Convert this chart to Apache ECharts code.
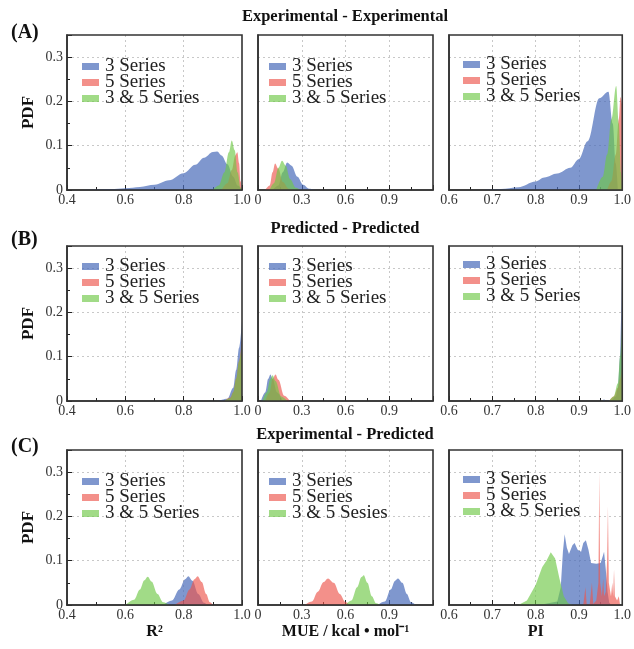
<!DOCTYPE html>
<html><head><meta charset="utf-8">
<script src="https://cdn.jsdelivr.net/npm/echarts@6/dist/echarts.min.js"></script>
<style>html,body{margin:0;padding:0;background:#fff}#c{width:634px;height:649px}</style>
</head><body><div id="c"></div>
<script>
// ---------- DATA ----------
const seriesNames = ['3 Series', '5 Series', '3 & 5 Series'];
const seriesNamesCMid = ['3 Series', '5 Series', '3 & 5 Sesies'];
const rowTitles = ['Experimental - Experimental', 'Predicted - Predicted', 'Experimental - Predicted'];
const rowLabels = ['(A)', '(B)', '(C)'];
const xNames = ['R\u00b2', 'MUE / kcal \u2022 mol\u207b\u00b9', 'PI'];
const yTickLabels = ['0', '0.1', '0.2', '0.3'];

// Row A : Experimental - Experimental
const aR2_3 = [[0.45,0],[0.5,0.001],[0.55,0.002],[0.6,0.004],[0.65,0.007],[0.7,0.012],[0.75,0.022],[0.8,0.038],[0.84,0.057],[0.87,0.073],[0.9,0.086],[0.915,0.087],[0.93,0.078],[0.95,0.058],[0.97,0.03],[0.985,0.01],[1.0,0]];
const aR2_5 = [[0.93,0],[0.95,0.015],[0.965,0.045],[0.977,0.078],[0.984,0.085],[0.99,0.06],[0.995,0.02],[1.0,0]];
const aR2_35 = [[0.9,0],[0.92,0.01],[0.94,0.04],[0.955,0.085],[0.965,0.112],[0.975,0.09],[0.985,0.04],[0.995,0.005],[1.0,0]];
const aMUE_3 = [[0.1,0],[0.14,0.01],[0.17,0.04],[0.2,0.062],[0.23,0.055],[0.27,0.03],[0.31,0.012],[0.35,0.003],[0.4,0]];
const aMUE_5 = [[0.05,0],[0.08,0.01],[0.1,0.04],[0.117,0.06],[0.14,0.048],[0.17,0.018],[0.21,0.003],[0.24,0]];
const aMUE_35 = [[0.08,0],[0.11,0.015],[0.14,0.05],[0.165,0.066],[0.19,0.055],[0.22,0.025],[0.26,0.005],[0.29,0]];
const aPI_3 = [[0.68,0],[0.72,0.002],[0.76,0.006],[0.8,0.019],[0.82,0.028],[0.85,0.037],[0.88,0.05],[0.9,0.07],[0.92,0.11],[0.947,0.207],[0.968,0.222],[0.978,0.15],[0.985,0.06],[0.99,0]];
const aPI_5 = [[0.965,0],[0.975,0.02],[0.985,0.08],[0.992,0.16],[0.996,0.21],[1.0,0.19]];
const aPI_35 = [[0.94,0],[0.955,0.03],[0.965,0.08],[0.975,0.16],[0.986,0.235],[0.992,0.15],[0.997,0.04],[1.0,0]];

// Row B : Predicted - Predicted
const bR2_3 = [[0.92,0],[0.95,0.005],[0.97,0.03],[0.98,0.07],[0.99,0.12],[1.0,0.18]];
const bR2_5 = [[0.94,0],[0.96,0.008],[0.97,0.02],[0.98,0.05],[0.99,0.09],[1.0,0.14]];
const bR2_35 = [[0.94,0],[0.96,0.007],[0.97,0.02],[0.98,0.05],[0.99,0.09],[1.0,0.13]];
const bMUE_3 = [[0.02,0],[0.05,0.02],[0.07,0.05],[0.085,0.06],[0.1,0.05],[0.13,0.02],[0.17,0]];
const bMUE_5 = [[0.05,0],[0.08,0.02],[0.1,0.05],[0.12,0.06],[0.14,0.048],[0.18,0.012],[0.22,0]];
const bMUE_35 = [[0.03,0],[0.06,0.02],[0.085,0.05],[0.1,0.058],[0.12,0.045],[0.16,0.01],[0.2,0]];
const bPI_3 = [[0.955,0],[0.958,0.004],[0.961,0],[0.975,0.002],[0.985,0.01],[0.99,0.03],[0.995,0.1],[0.998,0.2],[1.0,0.35]];
const bPI_5 = [[0.97,0],[0.98,0.01],[0.99,0.03],[0.995,0.05],[1.0,0.08]];
const bPI_35 = [[0.97,0],[0.98,0.01],[0.99,0.04],[0.995,0.1],[1.0,0.18]];

// Row C : Experimental - Predicted
const cR2_3 = [[0.73,0],[0.76,0.01],[0.785,0.035],[0.805,0.058],[0.816,0.065],[0.83,0.055],[0.85,0.025],[0.87,0.005],[0.88,0]];
const cR2_5 = [[0.77,0],[0.8,0.01],[0.82,0.035],[0.837,0.058],[0.848,0.065],[0.862,0.052],[0.877,0.025],[0.89,0.006],[0.9,0]];
const cR2_35 = [[0.6,0],[0.63,0.012],[0.65,0.035],[0.665,0.056],[0.677,0.064],[0.69,0.053],[0.71,0.025],[0.73,0.006],[0.75,0]];
const cMUE_3 = [[0.82,0],[0.87,0.008],[0.91,0.035],[0.94,0.055],[0.96,0.06],[0.99,0.05],[1.02,0.025],[1.05,0.006],[1.08,0]];
const cMUE_5 = [[0.32,0],[0.37,0.008],[0.41,0.03],[0.45,0.052],[0.48,0.06],[0.52,0.05],[0.56,0.025],[0.6,0.007],[0.63,0]];
const cMUE_35 = [[0.6,0],[0.64,0.01],[0.68,0.04],[0.71,0.063],[0.725,0.067],[0.75,0.05],[0.78,0.02],[0.81,0.004],[0.84,0]];
const cPI_3 = [[0.78,0],[0.82,0.002],[0.85,0.008],[0.858,0.04],[0.863,0.12],[0.867,0.16],[0.872,0.13],[0.877,0.115],[0.885,0.135],[0.89,0.14],[0.897,0.125],[0.905,0.12],[0.91,0.14],[0.916,0.146],[0.922,0.125],[0.928,0.095],[0.94,0.093],[0.95,0.095],[0.955,0.11],[0.958,0.12],[0.962,0.08],[0.966,0.03],[0.97,0.005],[0.975,0]];
const cPI_5 = [[0.91,0],[0.915,0.04],[0.918,0],[0.925,0.002],[0.93,0.05],[0.933,0.002],[0.94,0.01],[0.945,0.05],[0.947,0.30],[0.949,0.05],[0.953,0.02],[0.956,0.06],[0.958,0.02],[0.962,0.03],[0.965,0.1],[0.967,0.223],[0.969,0.05],[0.974,0.02],[0.977,0.05],[0.979,0.02],[0.981,0.08],[0.983,0.02],[0.988,0.01],[0.992,0.02],[0.995,0],[1,0]];
const cPI_35 = [[0.76,0],[0.78,0.01],[0.8,0.045],[0.815,0.085],[0.825,0.1],[0.835,0.119],[0.845,0.105],[0.855,0.06],[0.865,0.02],[0.875,0.004],[0.885,0]];

const panels = [
  [aR2_3, aR2_5, aR2_35], [aMUE_3, aMUE_5, aMUE_35], [aPI_3, aPI_5, aPI_35],
  [bR2_3, bR2_5, bR2_35], [bMUE_3, bMUE_5, bMUE_35], [bPI_3, bPI_5, bPI_35],
  [cR2_3, cR2_5, cR2_35], [cMUE_3, cMUE_5, cMUE_35], [cPI_3, cPI_5, cPI_35]
];
const jaggedPanel = 8;

// ---------- STYLE / LAYOUT ----------
const FONT = 'Liberation Serif';
const colors = ['rgba(72,107,185,0.7)', 'rgba(236,85,75,0.65)', 'rgba(110,200,70,0.65)'];
const colLeft = [67, 258, 449], colW = 175;
const rowTop = [35, 246, 450], rowH = 155;
const legendOff = [[15, 22], [11, 22], [14, 20], [15, 11], [11, 11], [14, 9], [15, 22], [11, 22], [14, 20]];
const xCfg = [
  {min: 0.4, max: 1.0, interval: 0.2},
  {min: 0, max: 1.2, interval: 0.3},
  {min: 0.6, max: 1.0, interval: 0.1}
];

const grid = [], xAxis = [], yAxis = [], series = [], legend = [];
for (let r = 0; r < 3; r++) {
  for (let c = 0; c < 3; c++) {
    const p = r * 3 + c;
    grid.push({left: colLeft[c], top: rowTop[r], width: colW, height: rowH, show: true, z: 5,
      borderColor: '#333', borderWidth: 1.6, backgroundColor: 'transparent'});
    const xc = xCfg[c];
    xAxis.push({type: 'value', gridIndex: p, min: xc.min, max: xc.max, interval: xc.interval,
      name: r === 2 ? xNames[c] : '', nameLocation: 'middle', nameGap: 19,
      nameTextStyle: {fontFamily: FONT, fontWeight: 'bold', fontSize: 16, color: '#111', verticalAlign: 'top'},
      axisLine: {show: true, lineStyle: {color: '#333', width: 1.6}},
      axisTick: {show: true, inside: true, length: 5, lineStyle: {color: '#222'}},
      minorTick: {show: true, splitNumber: 2, length: 3, lineStyle: {color: '#222'}},
      splitLine: {show: true, showMinLine: false, showMaxLine: false, lineStyle: {color: '#c8c8c8', type: [2, 3], width: 1}},
      axisLabel: {fontFamily: FONT, fontSize: 14, color: '#333', margin: 3,
        formatter: function (v) {
          if (Math.abs(v) < 1e-9) return '0';
          if (c === 1 && v > 1.1) return '';
          return v.toFixed(1);
        }}
    });
    yAxis.push({type: 'value', gridIndex: p, min: 0, max: 0.35, interval: 0.1,
      name: c === 0 ? 'PDF' : '', nameLocation: 'middle', nameGap: 30, nameRotate: 90,
      nameTextStyle: {fontFamily: FONT, fontWeight: 'bold', fontSize: 17, color: '#111'},
      axisLine: {show: true, lineStyle: {color: '#333', width: 1.6}},
      axisTick: {show: c === 0, inside: true, length: 5, lineStyle: {color: '#222'}},
      minorTick: {show: c === 0, splitNumber: 2, length: 3, lineStyle: {color: '#222'}},
      splitLine: {show: true, showMinLine: false, showMaxLine: false, lineStyle: {color: '#c8c8c8', type: [2, 3], width: 1}},
      axisLabel: {show: c === 0, fontFamily: FONT, fontSize: 14, color: '#333', margin: 4,
        formatter: function (v) {
          const k = Math.round(v * 10);
          if (Math.abs(v * 10 - k) > 1e-6) return '';
          return yTickLabels[k] || '';
        }}
    });
    const names = p === 7 ? seriesNamesCMid : seriesNames;
    for (let s = 0; s < 3; s++) {
      series.push({type: 'line', name: names[s], xAxisIndex: p, yAxisIndex: p,
        data: panels[p][s], symbol: 'none', showSymbol: false,
        smooth: p === jaggedPanel ? false : 0.35, smoothMonotone: 'x',
        lineStyle: {width: 0}, itemStyle: {color: colors[s]},
        areaStyle: {color: colors[s], opacity: 1}, z: 2 + s, silent: true});
    }
    legend.push({left: colLeft[c] + legendOff[p][0], top: rowTop[r] + legendOff[p][1],
      orient: 'vertical', itemWidth: 17, itemHeight: 7, itemGap: -3, padding: 0,
      icon: 'rect', selectedMode: false,
      textStyle: {fontFamily: FONT, fontSize: 19, color: '#222', lineHeight: 16, padding: [0, 0, 0, 1]},
      data: names.map((n, i) => ({name: n, icon: 'rect', itemStyle: {color: colors[i], borderWidth: 0}}))
    });
  }
}

const graphic = [];
const titleY = [17, 229, 435], labelY = [33, 240, 447];
for (let r = 0; r < 3; r++) {
  graphic.push({type: 'text', x: 345, y: titleY[r], style: {text: rowTitles[r],
    font: 'bold 16.5px "' + FONT + '"', fill: '#111', align: 'center', verticalAlign: 'middle'}});
  graphic.push({type: 'text', x: 11, y: labelY[r], style: {text: rowLabels[r],
    font: 'bold 20px "' + FONT + '"', fill: '#111', align: 'left', verticalAlign: 'middle'}});
}

const chart = echarts.init(document.getElementById('c'), null, {renderer: 'canvas'});
chart.setOption({animation: false, backgroundColor: '#fff', grid, xAxis, yAxis, series, legend, graphic});
</script>
</body></html>
